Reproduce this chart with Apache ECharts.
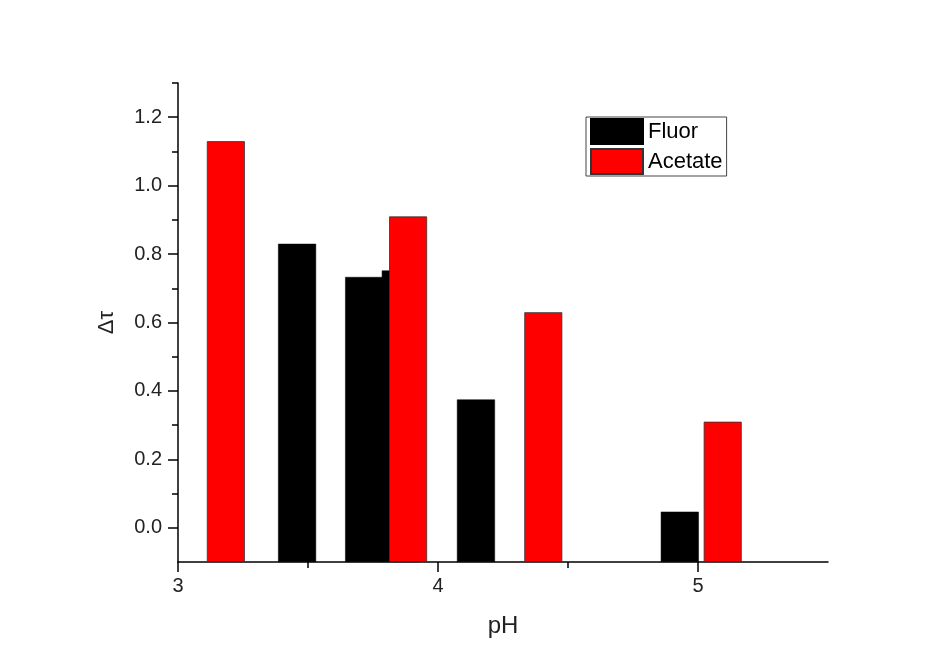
<!DOCTYPE html>
<html>
<head>
<meta charset="utf-8">
<script src="https://cdn.jsdelivr.net/npm/echarts@6/dist/echarts.min.js"></script>
<style>html,body{margin:0;padding:0;background:#fff}#c{width:948px;height:662px}</style>
</head>
<body>
<div id="c"></div>
<script>
const fluorData = [[3.458, 0.83], [3.716, 0.733], [3.857, 0.752], [4.146, 0.375], [4.93, 0.047]];
const acetateData = [[3.184, 1.13], [3.885, 0.91], [4.405, 0.63], [5.095, 0.31]];
const xMajorTicks = [3, 4, 5];
const xMinorTicks = [3.5, 4.5];
const yMajorTicks = [0, 0.2, 0.4, 0.6, 0.8, 1.0, 1.2];
const yMinorTicks = [0.1, 0.3, 0.5, 0.7, 0.9, 1.1, 1.3];

const font = 'Liberation Sans, Arial, sans-serif';
const chart = echarts.init(document.getElementById('c'));
const axisLine = {show: true, onZero: false, lineStyle: {color: '#000', width: 1.5}};
chart.setOption({
  backgroundColor: '#fff',
  animation: false,
  grid: {left: 178, right: 120, top: 83, bottom: 100, containLabel: false},
  legend: {
    orient: 'vertical', left: 586, top: 117,
    icon: 'rect',
    itemWidth: 52, itemHeight: 25, itemGap: 3,
    borderColor: '#444', borderWidth: 1, padding: [1, 4, 1, 4],
    textStyle: {fontFamily: font, fontSize: 22, color: '#000'},
    data: ['Fluor', 'Acetate']
  },
  xAxis: [{
    type: 'value', min: 3, max: 5.5, position: 'bottom',
    name: 'pH', nameLocation: 'middle', nameGap: 52,
    nameTextStyle: {fontFamily: font, fontSize: 24, color: '#222'},
    axisLine: axisLine,
    axisTick: {show: true, length: 10, customValues: xMajorTicks, lineStyle: {color: '#000', width: 1.5}},
    axisLabel: {customValues: xMajorTicks, fontFamily: font, fontSize: 20, color: '#222', margin: 14},
    splitLine: {show: false}
  }, {
    type: 'value', min: 3, max: 5.5, position: 'bottom',
    axisLine: {show: false, onZero: false},
    axisTick: {show: true, length: 6, customValues: xMinorTicks, lineStyle: {color: '#000', width: 1.5}},
    axisLabel: {show: false},
    splitLine: {show: false}
  }],
  yAxis: [{
    type: 'value', min: -0.1, max: 1.3, startValue: -0.1,
    name: 'Δτ', nameLocation: 'middle', nameGap: 60, nameRotate: 90,
    nameTextStyle: {fontFamily: font, fontSize: 22, color: '#222'},
    axisLine: axisLine,
    axisTick: {show: true, length: 10, customValues: yMajorTicks, lineStyle: {color: '#000', width: 1.5}},
    axisLabel: {customValues: yMajorTicks, fontFamily: font, fontSize: 20, color: '#222', margin: 16,
      formatter: v => Number(v).toFixed(1)},
    splitLine: {show: false}
  }, {
    type: 'value', min: -0.1, max: 1.3, position: 'left',
    axisLine: {show: false, onZero: false},
    axisTick: {show: true, length: 6, customValues: yMinorTicks, lineStyle: {color: '#000', width: 1.5}},
    axisLabel: {show: false},
    splitLine: {show: false}
  }],
  series: [{
    name: 'Fluor', type: 'bar', xAxisIndex: 0, yAxisIndex: 0,
    barWidth: 38, barGap: '-100%',
    itemStyle: {color: '#000', borderColor: '#000', borderWidth: 0.5},
    data: fluorData
  }, {
    name: 'Acetate', type: 'bar', xAxisIndex: 0, yAxisIndex: 0,
    barWidth: 38, barGap: '-100%',
    itemStyle: {color: '#ff0000', borderColor: '#333', borderWidth: 0.8},
    data: acetateData
  }]
});
</script>
</body>
</html>
